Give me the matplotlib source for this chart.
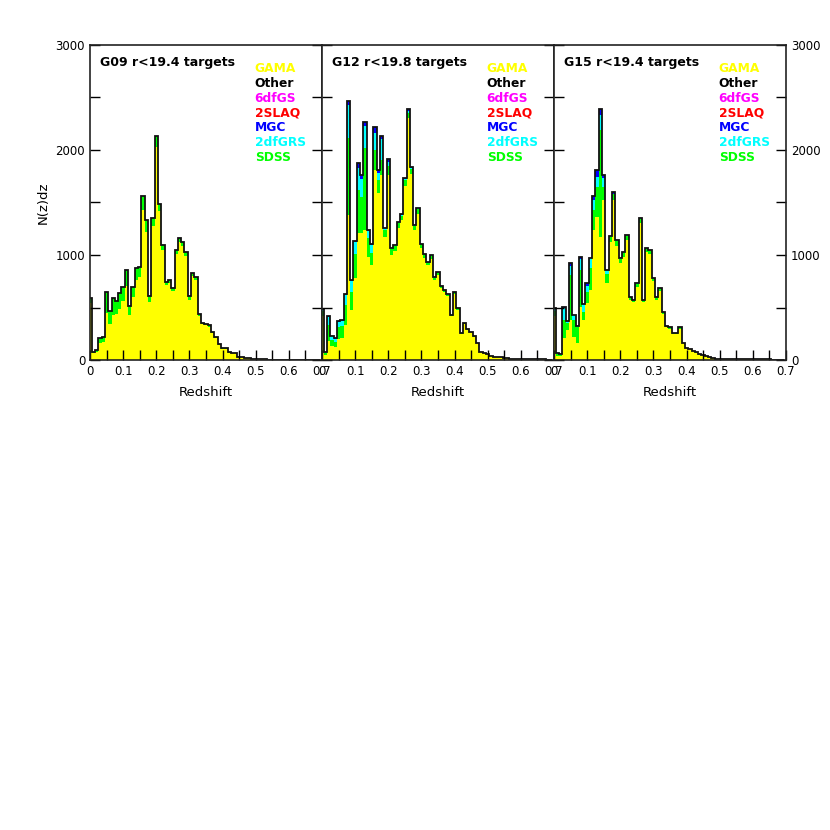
import matplotlib
matplotlib.use("Agg")
from matplotlib import pyplot as plt
import numpy as np

# bin centres (redshift), bins 0.01 wide
z_centres = np.round(np.arange(0.0, 0.70, 0.01), 2)

# ---- G09 (only GAMA + SDSS visible) ----
g09_gama = [547, 65, 80, 160, 170, 450, 340, 430, 440, 490,
            560, 705, 430, 600, 765, 790, 1430, 1220, 555, 1280,
            2025, 1420, 1045, 710, 730, 660, 1010, 1120, 1085, 990,
            575, 800, 760, 420, 340, 330, 315, 255, 208, 140,
            102, 102, 68, 65, 65, 29, 29, 17, 17, 11,
            9, 8, 6, 5, 4, 4, 3, 3, 3, 2,
            2, 2, 1, 1, 1, 1, 0, 0, 0, 0]
g09_sdss = [40, 15, 20, 45, 50, 200, 130, 160, 120, 150,
            140, 150, 80, 100, 110, 100, 130, 110, 50, 70,
            110, 70, 50, 30, 30, 30, 40, 45, 40, 40,
            30, 30, 30, 20, 15, 15, 15, 15, 12, 10,
            8, 8, 5, 5, 5, 3, 3, 2, 2, 1,
            1, 0, 0, 0, 0, 0, 0, 0, 0, 0,
            0, 0, 0, 0, 0, 0, 0, 0, 0, 0]
g09_2df = [0] * 70
g09_mgc = [0] * 70

# ---- G12 ----
g12_gama = [420, 50, 180, 130, 120, 200, 210, 330, 1380, 476,
            780, 1206, 1206, 1238, 984, 905, 1810, 1588, 1762, 1175,
            1762, 1000, 1040, 1260, 1330, 1660, 2302, 1770, 1240, 1395,
            1065, 975, 905, 965, 760, 812, 682, 645, 605, 415,
            630, 476, 246, 344, 283, 262, 222, 160, 76, 62,
            55, 37, 31, 24, 24, 19, 19, 13, 13, 13,
            6, 6, 6, 6, 6, 6, 6, 6, 3, 3]
g12_sdss = [50, 20, 150, 60, 55, 110, 110, 190, 730, 175,
            230, 410, 350, 780, 175, 110, 190, 130, 145, 60,
            85, 55, 45, 45, 45, 55, 48, 50, 38, 42,
            35, 30, 28, 30, 24, 26, 21, 20, 18, 13,
            19, 15, 8, 11, 9, 8, 7, 5, 3, 2,
            2, 1, 1, 1, 1, 0, 0, 0, 0, 0,
            0, 0, 0, 0, 0, 0, 0, 0, 0, 0]
g12_2df = [20, 10, 80, 35, 28, 55, 55, 100, 320, 100,
           110, 210, 170, 210, 70, 80, 160, 60, 195, 20,
           42, 12, 8, 10, 10, 12, 25, 12, 6, 6,
           4, 4, 3, 4, 2, 2, 2, 2, 2, 1,
           2, 1, 0, 1, 0, 0, 0, 0, 0, 0,
           0, 0, 0, 0, 0, 0, 0, 0, 0, 0,
           0, 0, 0, 0, 0, 0, 0, 0, 0, 0]
g12_mgc = [0, 0, 12, 4, 3, 6, 6, 9, 40, 11,
           13, 47, 36, 42, 9, 10, 62, 32, 32, 5,
           22, 3, 2, 3, 2, 3, 15, 3, 2, 2,
           1, 1, 1, 1, 1, 1, 0, 0, 0, 0,
           0, 0, 0, 0, 0, 0, 0, 0, 0, 0,
           0, 0, 0, 0, 0, 0, 0, 0, 0, 0,
           0, 0, 0, 0, 0, 0, 0, 0, 0, 0]

# ---- G15 ----
g15_gama = [420, 40, 35, 206, 286, 381, 222, 159, 508, 381,
            540, 667, 1238, 1365, 1175, 1524, 730, 1125, 1524, 1090,
            925, 985, 1140, 575, 550, 698, 1300, 548, 1025, 1006,
            752, 575, 655, 442, 311, 299, 244, 244, 299, 159,
            113, 101, 83, 70, 52, 46, 37, 31, 21, 13,
            13, 10, 10, 10, 10, 6, 6, 6, 6, 6,
            6, 6, 6, 6, 6, 6, 3, 3, 3, 3]
g15_sdss = [50, 15, 13, 175, 70, 430, 160, 160, 350, 80,
            110, 206, 190, 285, 1016, 127, 89, 45, 57, 45,
            38, 38, 42, 24, 22, 28, 45, 20, 40, 40,
            30, 23, 26, 17, 12, 12, 10, 10, 12, 6,
            4, 4, 3, 3, 2, 2, 1, 1, 1, 0,
            0, 0, 0, 0, 0, 0, 0, 0, 0, 0,
            0, 0, 0, 0, 0, 0, 0, 0, 0, 0]
g15_2df = [20, 7, 6, 115, 15, 80, 45, 8, 100, 69,
           55, 100, 95, 95, 143, 79, 38, 9, 0, 6,
           5, 5, 6, 3, 2, 3, 8, 2, 4, 3,
           2, 2, 2, 1, 1, 0, 0, 0, 0, 0,
           0, 0, 0, 0, 0, 0, 0, 0, 0, 0,
           0, 0, 0, 0, 0, 0, 0, 0, 0, 0,
           0, 0, 0, 0, 0, 0, 0, 0, 0, 0]
g15_mgc = [2, 1, 1, 12, 0, 30, 2, 0, 26, 0,
           25, 2, 39, 65, 57, 32, 0, 2, 22, 2,
           2, 2, 2, 1, 1, 1, 3, 1, 1, 1,
           1, 0, 0, 0, 0, 0, 0, 0, 0, 0,
           0, 0, 0, 0, 0, 0, 0, 0, 0, 0,
           0, 0, 0, 0, 0, 0, 0, 0, 0, 0,
           0, 0, 0, 0, 0, 0, 0, 0, 0, 0]

fields = ["G09 r<19.4 targets", "G12 r<19.8 targets", "G15 r<19.4 targets"]
survey_names = ["GAMA", "Other", "6dfGS", "2SLAQ", "MGC", "2dfGRS", "SDSS"]
survey_colours = ["#ffff00", "black", "#ff00ff", "#ff0000", "#0000ff", "#00ffff", "#00ff00"]

layers = [
    (g09_gama, g09_sdss, g09_2df, g09_mgc),
    (g12_gama, g12_sdss, g12_2df, g12_mgc),
    (g15_gama, g15_sdss, g15_2df, g15_mgc),
]


def draw_panel(ax, gama, sdss, twodf, mgc, title):
    edges = np.append(z_centres - 0.005, z_centres[-1] + 0.005)
    gama = np.array(gama)
    c1 = gama + np.array(sdss)
    c2 = c1 + np.array(twodf)
    c3 = c2 + np.array(mgc)
    # cumulative layers, top one first
    ax.stairs(c3, edges, fill=True, color="#0000ff", lw=0)
    ax.stairs(c2, edges, fill=True, color="#00ffff", lw=0)
    ax.stairs(c1, edges, fill=True, color="#00ff00", lw=0)
    ax.stairs(gama, edges, fill=True, color="#ffff00", lw=0)
    ax.stairs(c3, edges, fill=False, color="#111111", lw=1.3, baseline=None)

    ax.set_xlim(0, 0.7)
    ax.set_ylim(0, 3000)
    ax.set_xticks(np.arange(0, 0.71, 0.1))
    ax.set_xticks(np.arange(0.05, 0.7, 0.1), minor=True)
    ax.set_xticklabels(["0", "0.1", "0.2", "0.3", "0.4", "0.5", "0.6", "0.7"])
    ax.set_yticks([0, 1000, 2000, 3000])
    ax.set_yticks([500, 1500, 2500], minor=True)
    ax.tick_params(which="both", direction="in", length=7, width=1,
                   top=False, right=True, labelsize=8.5)
    ax.set_xlabel("Redshift", fontsize=9.5, labelpad=6)
    for s in ax.spines.values():
        s.set_linewidth(1.2)
        s.set_color("#222222")

    ax.text(0.045, 0.946, title, transform=ax.transAxes, fontsize=9,
            fontweight="bold", va="center", ha="left")
    for i, (name, col) in enumerate(zip(survey_names, survey_colours)):
        ax.text(0.71, 0.924 - i * 0.0467, name, transform=ax.transAxes,
                color=col, fontsize=8.8, fontweight="bold", va="center", ha="left")


fig = plt.figure(figsize=(8.3, 8.3), dpi=100)
left, right = 90 / 830, 786 / 830
bottom, top = 1 - 360 / 830, 1 - 45 / 830
w = (right - left) / 3
axes = []
for k in range(3):
    ax = fig.add_axes([left + k * w, bottom, w, top - bottom])
    draw_panel(ax, *layers[k], fields[k])
    axes.append(ax)

axes[0].set_ylabel("N(z)dz", fontsize=9.5, labelpad=4)
axes[1].tick_params(labelleft=False)
axes[2].tick_params(labelleft=False, labelright=True)

fig.savefig("out.png", dpi=100)
